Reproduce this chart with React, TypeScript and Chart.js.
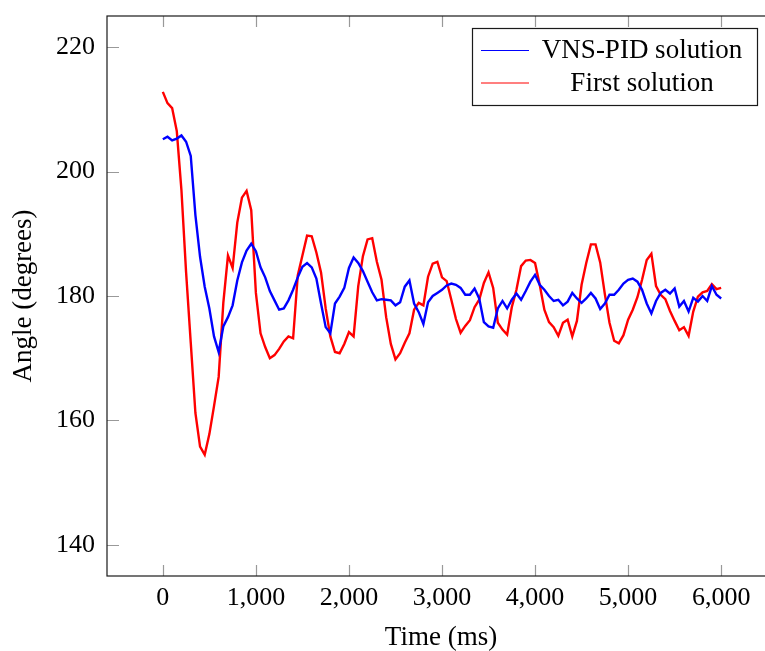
import { useEffect, useRef } from "react";
import { Chart, registerables } from "chart.js";

Chart.register(...registerables);

// ---- Data ----
const timeMs = [
  0, 50, 100, 150, 200, 250, 300, 350, 400, 450, 500, 550, 600, 650, 700, 750, 800, 850, 900, 950,
  1000, 1050, 1100, 1150, 1200, 1250, 1300, 1350, 1400, 1450, 1500, 1550, 1600, 1650, 1700, 1750, 1800, 1850, 1900, 1950,
  2000, 2050, 2100, 2150, 2200, 2250, 2300, 2350, 2400, 2450, 2500, 2550, 2600, 2650, 2700, 2750, 2800, 2850, 2900, 2950,
  3000, 3050, 3100, 3150, 3200, 3250, 3300, 3350, 3400, 3450, 3500, 3550, 3600, 3650, 3700, 3750, 3800, 3850, 3900, 3950,
  4000, 4050, 4100, 4150, 4200, 4250, 4300, 4350, 4400, 4450, 4500, 4550, 4600, 4650, 4700, 4750, 4800, 4850, 4900, 4950,
  5000, 5050, 5100, 5150, 5200, 5250, 5300, 5350, 5400, 5450, 5500, 5550, 5600, 5650, 5700, 5750, 5800, 5850, 5900, 5950,
  6000,
];

const vnsPidAngle = [
  205.2, 205.6, 205.0, 205.3, 205.8, 204.8, 202.5, 193.0, 186.3, 181.5, 178.0, 173.5, 171.0, 175.1, 176.6, 178.5, 182.5, 185.4, 187.3, 188.4,
  187.2, 184.6, 183.0, 180.8, 179.3, 177.8, 178.0, 179.3, 181.0, 183.0, 184.7, 185.3, 184.6, 182.8, 178.8, 175.0, 174.0, 178.8, 179.9, 181.3,
  184.5, 186.2, 185.3, 184.0, 182.3, 180.6, 179.3, 179.5, 179.4, 179.3, 178.5, 179.0, 181.5, 182.5, 178.8, 177.4, 175.5, 179.0, 180.0, 180.5,
  181.0, 181.7, 182.0, 181.8, 181.3, 180.2, 180.2, 181.2, 179.6, 175.8, 175.1, 174.9, 178.0, 179.2, 178.0, 179.4, 180.4, 179.4, 180.8, 182.3,
  183.4, 181.8, 181.0, 180.0, 179.2, 179.4, 178.5, 179.1, 180.5, 179.6, 178.9, 179.6, 180.5, 179.6, 177.9, 178.8, 180.2, 180.2, 181.0, 182.0,
  182.6, 182.8, 182.3, 181.0, 178.8, 177.2, 179.2, 180.5, 181.0, 180.4, 181.2, 178.3, 179.2, 177.5, 179.7, 179.1, 180.0, 179.2, 181.6, 180.2,
  179.6,
];

const firstSolutionAngle = [
  212.8, 211.0, 210.2, 206.5, 197.0, 183.8, 172.5, 161.2, 155.8, 154.5, 157.8, 162.3, 167.0, 178.9, 186.5, 184.5, 191.8, 195.8, 196.9, 193.8,
  180.5, 174.0, 171.8, 170.0, 170.5, 171.5, 172.7, 173.5, 173.2, 183.3, 186.5, 189.7, 189.6, 187.0, 183.8, 178.0, 173.5, 171.0, 170.8, 172.3,
  174.2, 173.5, 181.6, 186.4, 189.1, 189.3, 185.5, 182.6, 176.6, 172.3, 169.8, 170.8, 172.5, 174.0, 177.8, 178.9, 178.5, 183.1, 185.2, 185.5,
  183.0, 182.4, 179.4, 176.3, 174.1, 175.2, 176.1, 178.2, 179.4, 182.1, 183.8, 181.3, 175.7, 174.6, 173.8, 178.2, 181.0, 184.8, 185.7, 185.8,
  185.3, 181.8, 177.8, 175.8, 175.0, 173.6, 175.7, 176.2, 173.5, 176.0, 181.8, 185.3, 188.3, 188.3, 185.4, 180.3, 175.7, 172.8, 172.4, 173.7,
  176.2, 177.8, 179.8, 182.6, 185.8, 186.8, 181.6, 180.2, 179.5, 177.6, 176.0, 174.5, 175.0, 173.6, 177.5, 179.9, 180.6, 180.8, 181.9, 181.1,
  181.3,
];

const xTickValues = [0, 1000, 2000, 3000, 4000, 5000, 6000];
const yTickValues = [140, 160, 180, 200, 220];
const seriesLabels = ["VNS-PID solution", "First solution"];
const seriesColors = ["#0000ff", "#ff0000"];
const xAxisTitle = "Time (ms)";
const yAxisTitle = "Angle (degrees)";

const FONT = '"Liberation Serif", "Times New Roman", serif';

const pgfPlugin = {
  id: "pgfDecor",
  beforeDatasetsDraw(chart: any) {
    const { ctx, chartArea, scales } = chart;
    const { left, right, top, bottom } = chartArea;
    ctx.save();
    ctx.strokeStyle = "#999999";
    ctx.lineWidth = 1.2;
    ctx.beginPath();
    for (const v of xTickValues) {
      const x = Math.round(scales.x.getPixelForValue(v)) + 0.5;
      ctx.moveTo(x, bottom);
      ctx.lineTo(x, bottom - 11);
      ctx.moveTo(x, top);
      ctx.lineTo(x, top + 11);
    }
    for (const v of yTickValues) {
      const y = Math.round(scales.y.getPixelForValue(v)) + 0.5;
      ctx.moveTo(left, y);
      ctx.lineTo(left + 12, y);
      ctx.moveTo(right, y);
      ctx.lineTo(right - 12, y);
    }
    ctx.stroke();
    ctx.restore();
  },
  afterDatasetsDraw(chart: any) {
    const { ctx, chartArea } = chart;
    const { left, right, top, bottom } = chartArea;
    ctx.save();
    // frame
    ctx.strokeStyle = "#1a1a1a";
    ctx.lineWidth = 1.2;
    ctx.strokeRect(left, top, right - left, bottom - top);

    // legend
    const bx = 472, by = 28, bw = 285, bh = 77;
    ctx.fillStyle = "#ffffff";
    ctx.fillRect(bx, by, bw, bh);
    ctx.strokeStyle = "#1a1a1a";
    ctx.lineWidth = 1.2;
    ctx.strokeRect(bx + 0.5, by + 0.5, bw, bh);
    const rows = [50.5, 83];
    const baselines = [58, 91];
    ctx.font = `27px ${FONT}`;
    ctx.textAlign = "center";
    ctx.textBaseline = "alphabetic";
    seriesLabels.forEach((label, i) => {
      ctx.strokeStyle = seriesColors[i];
      ctx.lineWidth = 1.2;
      ctx.beginPath();
      ctx.moveTo(481, rows[i]);
      ctx.lineTo(529, rows[i]);
      ctx.stroke();
      ctx.fillStyle = "#000000";
      ctx.fillText(label, 642, baselines[i]);
    });

    // axis titles
    ctx.fillStyle = "#000000";
    ctx.font = `27px ${FONT}`;
    ctx.textAlign = "center";
    ctx.textBaseline = "alphabetic";
    ctx.fillText(xAxisTitle, 441, 645);
    ctx.save();
    ctx.translate(31, 296);
    ctx.rotate(-Math.PI / 2);
    ctx.fillText(yAxisTitle, 0, 0);
    ctx.restore();
    ctx.restore();
  },
};

export default function App() {
  const canvasRef = useRef<HTMLCanvasElement | null>(null);

  useEffect(() => {
    const canvas = canvasRef.current;
    if (!canvas) return;
    const chart = new Chart(canvas, {
      type: "line",
      data: {
        datasets: [
          {
            label: seriesLabels[0],
            data: timeMs.map((t, i) => ({ x: t, y: vnsPidAngle[i] })),
            borderColor: seriesColors[0],
            backgroundColor: seriesColors[0],
            borderWidth: 2.4,
            pointRadius: 0,
            tension: 0,
          },
          {
            label: seriesLabels[1],
            data: timeMs.map((t, i) => ({ x: t, y: firstSolutionAngle[i] })),
            borderColor: seriesColors[1],
            backgroundColor: seriesColors[1],
            borderWidth: 2.4,
            pointRadius: 0,
            tension: 0,
          },
        ],
      },
      options: {
        responsive: false,
        animation: false,
        devicePixelRatio: 1,
        layout: { padding: { top: 16, right: 13, left: 0, bottom: 0 } },
        plugins: {
          legend: { display: false },
          tooltip: { enabled: false },
        },
        scales: {
          x: {
            type: "linear",
            min: -600,
            max: 6600,
            grid: { display: false, drawTicks: false },
            border: { display: false },
            afterBuildTicks: (scale: any) => {
              scale.ticks = xTickValues.map((v) => ({ value: v }));
            },
            afterFit: (scale: any) => {
              scale.height = 75;
              scale.paddingLeft = 0;
              scale.paddingRight = 0;
            },
            ticks: {
              padding: 7,
              maxRotation: 0,
              autoSkip: false,
              color: "#000000",
              font: { family: FONT, size: 26 },
              callback: (v: any) => Number(v).toLocaleString("en-US"),
            },
          },
          y: {
            type: "linear",
            min: 135,
            max: 225,
            grid: { display: false, drawTicks: false },
            border: { display: false },
            afterBuildTicks: (scale: any) => {
              scale.ticks = yTickValues.map((v) => ({ value: v }));
            },
            afterFit: (scale: any) => {
              scale.width = 107;
              scale.paddingTop = 0;
              scale.paddingBottom = 0;
            },
            ticks: {
              padding: 12,
              autoSkip: false,
              color: "#000000",
              font: { family: FONT, size: 26 },
              callback: (v: any) => String(v),
            },
          },
        },
      },
      plugins: [pgfPlugin],
    });
    return () => chart.destroy();
  }, []);

  return (
    <div
      style={{
        position: "fixed",
        left: 0,
        top: 0,
        width: 765,
        height: 651,
        overflow: "hidden",
        background: "#ffffff",
      }}
    >
      <canvas ref={canvasRef} width={790} height={651} style={{ display: "block" }} />
    </div>
  );
}
